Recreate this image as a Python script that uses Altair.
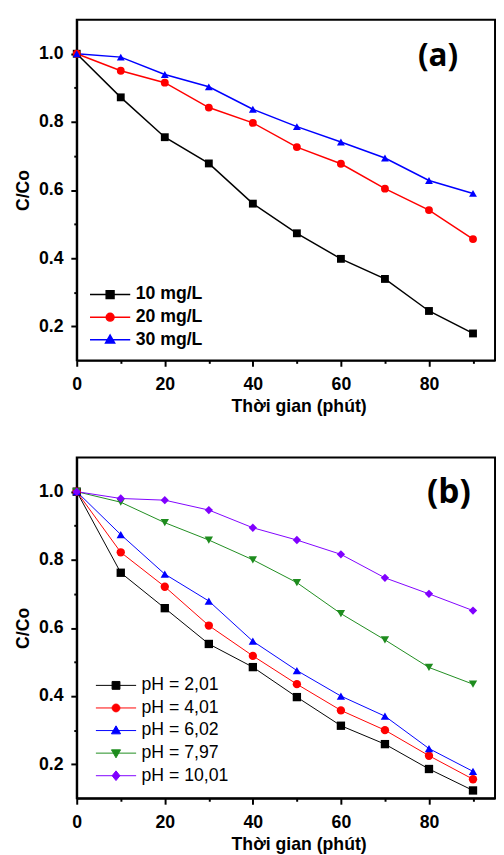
import altair as alt
import pandas as pd

time = [0, 10, 20, 30, 40, 50, 60, 70, 80, 90]

conc_labels = ["10 mg/L", "20 mg/L", "30 mg/L"]
c10 = [1.0, 0.872, 0.755, 0.678, 0.560, 0.473, 0.398, 0.339, 0.245, 0.179]
c20 = [1.0, 0.950, 0.915, 0.842, 0.797, 0.726, 0.677, 0.604, 0.541, 0.456]
c30 = [1.0, 0.990, 0.939, 0.903, 0.837, 0.786, 0.741, 0.694, 0.628, 0.590]

ph_labels = ["pH = 2,01", "pH = 4,01", "pH = 6,02", "pH = 7,97", "pH = 10,01"]
ph201 = [1.0, 0.762, 0.658, 0.553, 0.485, 0.397, 0.313, 0.259, 0.186, 0.123]
ph401 = [1.0, 0.822, 0.721, 0.607, 0.518, 0.435, 0.358, 0.300, 0.225, 0.156]
ph602 = [1.0, 0.874, 0.758, 0.679, 0.561, 0.475, 0.400, 0.341, 0.246, 0.179]
ph797 = [1.0, 0.969, 0.909, 0.858, 0.800, 0.733, 0.642, 0.565, 0.484, 0.435]
ph1001 = [1.0, 0.980, 0.975, 0.946, 0.894, 0.858, 0.816, 0.747, 0.700, 0.651]

colors_a = ["#000000", "#ff0000", "#0000ff"]
colors_b = ["#000000", "#ff0000", "#0000ff", "#1e8c1e", "#8000ff"]
shapes = ["square", "circle", "triangle-up", "triangle-down", "diamond"]
LINE = "M-2.56,0H2.56"
legend_paths = [
    LINE + "M-0.5,-0.5H0.5V0.5H-0.5Z",
    LINE + "M0.5,0A0.5,0.5,0,1,1,-0.5,0A0.5,0.5,0,1,1,0.5,0Z",
    LINE + "M0,-0.6L0.58,0.42L-0.58,0.42Z",
    LINE + "M0,0.6L0.58,-0.42L-0.58,-0.42Z",
    LINE + "M0,-0.62L0.5,0L0,0.62L-0.5,0Z",
]

FONT = "Liberation Sans"


def make_df(labels, series):
    rows = []
    for lab, vals in zip(labels, series):
        for t, v in zip(time, vals):
            rows.append({"t": t, "c": v, "s": lab})
    return pd.DataFrame(rows)


xaxis = alt.Axis(
    values=time,
    labelExpr="datum.value % 20 === 0 ? datum.label : ''",
    tickSize={"condition": {"test": "datum.value % 20 === 0", "value": 6}, "value": 3},
    grid=False, labelFlush=False, labelOverlap=False,
    labelFont=FONT, labelFontSize=18, labelFontWeight="bold", labelColor="black",
    labelPadding=10,
    titleFont=FONT, titleFontSize=18, titleFontWeight="bold", titleColor="black",
    titlePadding=4, titleX=226, titleAlign="center",
    domainColor="black", domainWidth=2, tickColor="black", tickWidth=2,
)

yaxis = alt.Axis(
    values=[0.2, 0.3, 0.4, 0.5, 0.6, 0.7, 0.8, 0.9, 1.0],
    labelExpr="round(datum.value*10) % 2 === 0 ? format(datum.value, '.1f') : ''",
    tickSize={"condition": {"test": "round(datum.value*10) % 2 === 0", "value": 6}, "value": 3},
    grid=False, labelFlush=False, labelOverlap=False,
    labelFont=FONT, labelFontSize=18, labelFontWeight="bold", labelColor="black",
    labelPadding=8,
    titleFont=FONT, titleFontSize=18, titleFontWeight="bold", titleColor="black",
    titlePadding=6,
    domainColor="black", domainWidth=2, tickColor="black", tickWidth=2,
)


def panel(df, labels, colors, tag, tag_size, lw, msize, label_weight, lx, ly, rp, tx, ty):
    n = len(labels)
    x = alt.X("t:Q", scale=alt.Scale(domain=[0, 95], nice=False, zero=False),
              axis=xaxis, title="Thời gian (phút)")
    y = alt.Y("c:Q", scale=alt.Scale(domain=[0.1, 1.1], nice=False, zero=False),
              axis=yaxis, title="C/Co")
    color = alt.Color("s:N", scale=alt.Scale(domain=labels, range=colors), legend=None)
    base = alt.Chart(df)
    line = base.mark_line(strokeWidth=lw).encode(x=x, y=y, color=color)
    pts = base.mark_point(filled=True, size=msize, opacity=1).encode(
        x=x, y=y, color=color,
        shape=alt.Shape("s:N", scale=alt.Scale(domain=labels, range=shapes[:n]), legend=None),
    )
    leg = alt.Legend(
        orient="none", legendX=lx, legendY=ly, title=None,
        symbolSize=256, symbolStrokeWidth=lw, symbolOpacity=1,
        labelFont=FONT, labelFontSize=18, labelFontWeight=label_weight,
        labelColor="black", labelOffset=17, rowPadding=rp,
    )
    legl = base.mark_point(filled=True, opacity=0).encode(
        x=x, y=y,
        shape=alt.Shape("s:N", scale=alt.Scale(domain=labels, range=legend_paths[:n]), legend=leg),
        fill=alt.Fill("s:N", scale=alt.Scale(domain=labels, range=colors), legend=leg),
        stroke=alt.Stroke("s:N", scale=alt.Scale(domain=labels, range=colors), legend=leg),
    )
    txt = alt.Chart(pd.DataFrame({"lab": [tag]})).mark_text(
        font="Open Sans", fontSize=tag_size, fontWeight="bold", color="black",
        align="center", baseline="middle",
    ).encode(text="lab:N", x=alt.value(tx), y=alt.value(ty))
    return alt.layer(line, pts, legl, txt).resolve_scale(
        shape="independent", color="independent", fill="independent", stroke="independent"
    ).properties(width=426, height=347)


df_a = make_df(conc_labels, [c10, c20, c30])
df_b = make_df(ph_labels, [ph201, ph401, ph602, ph797, ph1001])

pa = panel(df_a, conc_labels, colors_a, "(a)", 32, 1.5, 64, "bold", 25, 271, 5, 368, 37)
pb = panel(df_b, ph_labels, colors_b, "(b)", 34, 1.0, 72, "normal", 31, 223, 5, 379, 36)

chart = alt.vconcat(pa, pb, spacing=41).resolve_scale(
    shape="independent", color="independent", fill="independent", stroke="independent"
).properties(
    padding={"left": 5, "top": 3, "right": 0, "bottom": 0}
).configure_view(stroke="black", strokeWidth=2)

chart.save("out.html", embed_options={"renderer": "svg", "actions": False})
